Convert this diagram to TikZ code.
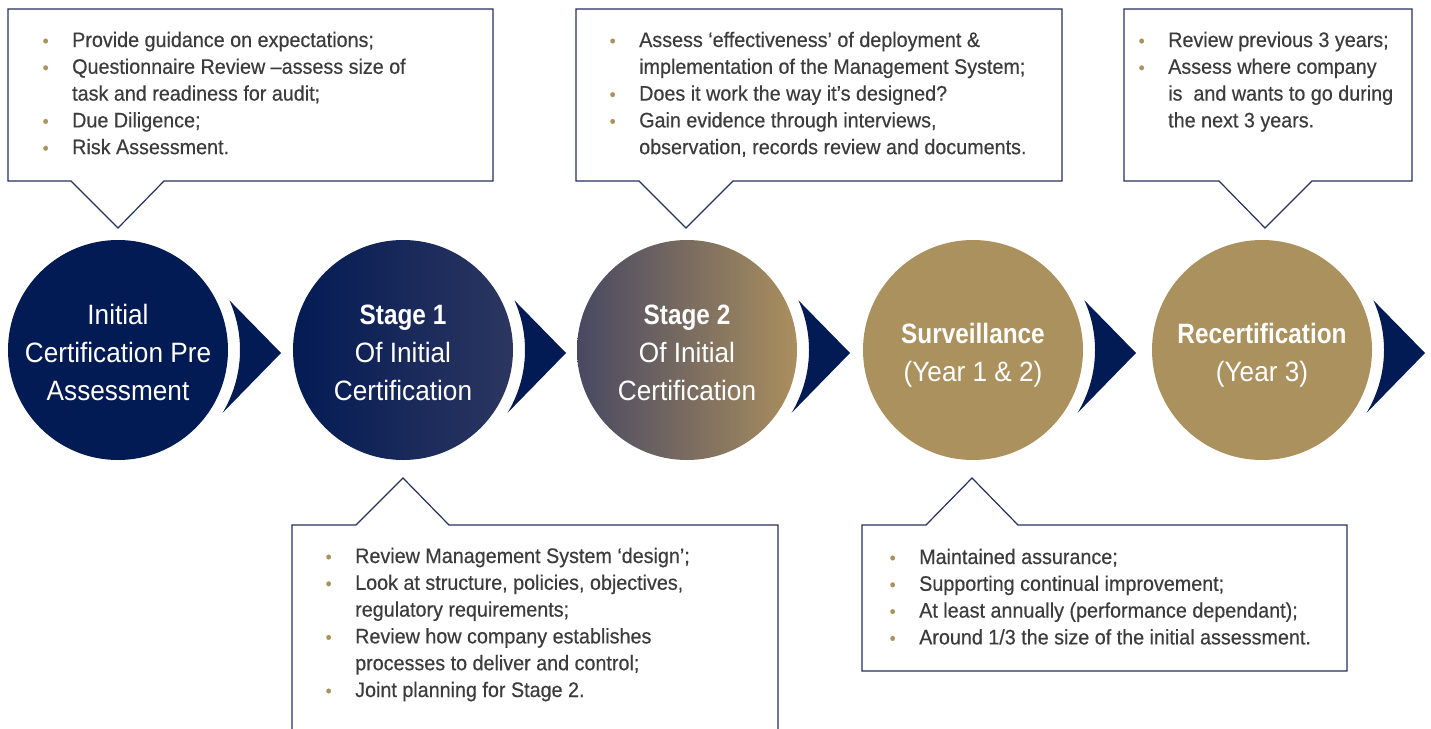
\documentclass[tikz,border=0pt]{standalone}
\usepackage{fontspec}
\setmainfont{Liberation Sans}[FakeStretch=0.94, FakeBold=0.4, BoldFeatures={FakeStretch=0.87, FakeBold=0.4}]
\newfontfamily\circfont{Liberation Sans}[FakeStretch=0.935, BoldFeatures={FakeStretch=0.87}]
\usepackage{array}
\usetikzlibrary{calc}
\definecolor{navy}{RGB}{3,27,84}
\definecolor{navyB}{RGB}{44,54,96}
\definecolor{stageL}{RGB}{72,72,98}
\definecolor{stageM}{RGB}{112,98,100}
\definecolor{stageR}{RGB}{170,143,94}
\definecolor{gold}{RGB}{171,145,94}
\definecolor{border}{RGB}{35,48,92}
\definecolor{txt}{RGB}{60,60,60}
\newcommand\bu{\textcolor{gold}{\fontsize{18}{18}\selectfont\textbullet}}
\begin{document}
\begin{tikzpicture}[x=1pt,y=-1pt,
  callout/.style={draw=border, line width=1.2pt, fill=white, line join=miter},
  chev/.style={fill=navy},
  body/.style={anchor=base west, inner sep=0pt, text=txt, font=\fontsize{21}{26.8}\selectfont},
  ctext/.style={anchor=base, inner sep=0pt, text=white, font=\circfont\fontsize{28}{38}\selectfont},
  disc/.style={circle, minimum size=220pt, inner sep=0pt, draw=none}]
\fill[white] (0,0) rectangle (1431,728);
\useasboundingbox (0,0) rectangle (1431,728);

% callouts
\draw[callout] (8,9) -- (493,9) -- (493,181) -- (164,181) -- (118,228) -- (71,181) -- (8,181) -- cycle;
\draw[callout] (576,9) -- (1062,9) -- (1062,181) -- (733,181) -- (686,228) -- (639,181) -- (576,181) -- cycle;
\draw[callout] (1124,9) -- (1412,9) -- (1412,181) -- (1312,181) -- (1265,228) -- (1219,181) -- (1124,181) -- cycle;
\draw[callout] (292,525) -- (356,525) -- (403,478) -- (449,525) -- (778,525) -- (778,745) -- (292,745) -- cycle;
\draw[callout] (862,525) -- (926,525) -- (972,478) -- (1018,525) -- (1347,525) -- (1347,671) -- (862,671) -- cycle;

% circles
\node[disc, fill=navy] (c1) at (118,350) {};
\node[disc, left color=navy, right color=navyB] (c2) at (403,350) {};
\node[disc, left color=stageL, middle color=stageM, right color=stageR] (c3) at (687,350) {};
\node[disc, fill=gold] (c4) at (973,350) {};
\node[disc, fill=gold] (c5) at (1262,350) {};

% chevrons
\foreach \cx in {118,403,687,973,1262}{
  \fill[chev] ($(\cx,350)+(-24:122)$) -- (\cx+163,353) -- ($(\cx,350)+(31:122)$)
     arc[start angle=31, end angle=-24, radius=122] -- cycle;
}

% circle texts
\node[ctext] (t1) at (118,324) {\begin{tabular}[t]{@{}c@{}}Initial\\Certification Pre\\Assessment\end{tabular}};
\node[ctext] (t2) at (403,324) {\begin{tabular}[t]{@{}c@{}}\textbf{Stage 1}\\Of Initial\\Certification\end{tabular}};
\node[ctext] (t3) at (687,324) {\begin{tabular}[t]{@{}c@{}}\textbf{Stage 2}\\Of Initial\\Certification\end{tabular}};
\node[ctext] (t4) at (973,343) {\begin{tabular}[t]{@{}c@{}}\textbf{Surveillance}\\(Year 1 \& 2)\end{tabular}};
\node[ctext] (t5) at (1262,343) {\begin{tabular}[t]{@{}c@{}}\textbf{Recertification}\\(Year 3)\end{tabular}};

% bullet texts
\node[body] (b1) at (42.5,47) {\begin{tabular}[t]{@{}p{29.5pt}@{}l@{}}
\bu & Provide guidance on expectations;\\
\bu & Questionnaire Review –assess size of\\
    & task and readiness for audit;\\
\bu & Due Diligence;\\
\bu & Risk Assessment.
\end{tabular}};
\node[body] (b2) at (609.5,47) {\begin{tabular}[t]{@{}p{29.5pt}@{}l@{}}
\bu & Assess ‘effectiveness’ of deployment \&\\
    & implementation of the Management System;\\
\bu & Does it work the way it’s designed?\\
\bu & Gain evidence through interviews,\\
    & observation, records review and documents.
\end{tabular}};
\node[body] (b3) at (1138.5,47) {\begin{tabular}[t]{@{}p{29.5pt}@{}l@{}}
\bu & Review previous 3 years;\\
\bu & Assess where company\\
    & is\ \ and wants to go during\\
    & the next 3 years.
\end{tabular}};
\node[body] (b4) at (325.5,563) {\begin{tabular}[t]{@{}p{29.5pt}@{}l@{}}
\bu & Review Management System ‘design’;\\
\bu & Look at structure, policies, objectives,\\
    & regulatory requirements;\\
\bu & Review how company establishes\\
    & processes to deliver and control;\\
\bu & Joint planning for Stage 2.
\end{tabular}};
\node[body] (b5) at (889.5,564) {\begin{tabular}[t]{@{}p{29.5pt}@{}l@{}}
\bu & Maintained assurance;\\
\bu & Supporting continual improvement;\\
\bu & At least annually (performance dependant);\\
\bu & Around 1/3 the size of the initial assessment.
\end{tabular}};
\end{tikzpicture}
\end{document}
